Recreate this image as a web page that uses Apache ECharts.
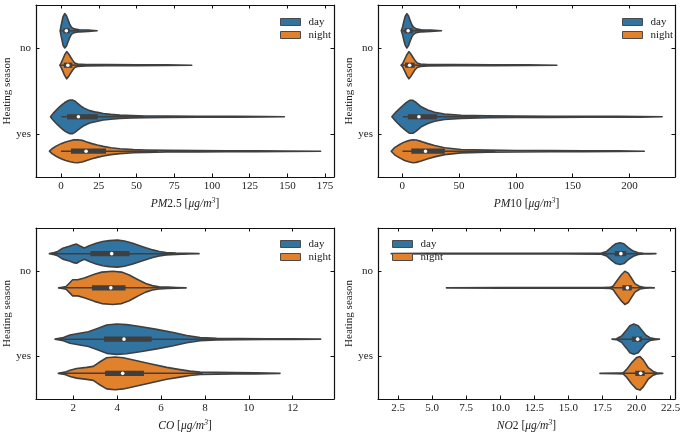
<!DOCTYPE html>
<html><head><meta charset="utf-8">
<script src="https://cdn.jsdelivr.net/npm/echarts@6/dist/echarts.min.js"></script>
<style>html,body{margin:0;padding:0;background:#fff}#c{width:685px;height:434px}</style>
</head><body><div id="c"></div>
<script>
const categories = ['no', 'yes'];
const hueNames = ['day', 'night'];
const hueColors = ['#3274a1', '#e1812c'];

const pm25Ticks = [0, 25, 50, 75, 100, 125, 150, 175];
const pm10Ticks = [0, 50, 100, 150, 200];
const coTicks = [2, 4, 6, 8, 10, 12];
const no2Ticks = [2.5, 5, 7.5, 10, 12.5, 15, 17.5, 20, 22.5];

// Violin outlines: sample values (X) and relative density / half-width (W, 1 = full width)
// Box stats: [whisker low, q1, median, q3, whisker high]
const pm25NoDayX = [-0.6, 0, 0.6, 1.33, 2.43, 3.53, 4.64, 5.74, 6.85, 8.6, 12.15, 18, 23.9];
const pm25NoDayW = [0, 0.28, 0.53, 0.83, 1.0, 0.89, 0.64, 0.39, 0.21, 0.11, 0.06, 0.04, 0];
const pm25NoDayBox = [0, 1.5, 3.5, 5.8, 12];
const pm25NoNightX = [-0.8, -0.2, 1.1, 2.43, 3.75, 5.08, 6.4, 7.73, 9.05, 11, 16.6, 30, 50, 70, 86.6];
const pm25NoNightW = [0, 0.08, 0.33, 0.61, 0.79, 0.65, 0.46, 0.28, 0.13, 0.07, 0.045, 0.035, 0.03, 0.02, 0];
const pm25NoNightBox = [0, 1.8, 4.5, 7.5, 16];
const pm25YesDayX = [-7, -5.5, -3.5, -1.5, 0.5, 2.5, 4.5, 6, 7.5, 9, 11, 13, 15, 19, 23.5, 28, 33, 39, 47, 56, 70, 90, 115, 135, 148];
const pm25YesDayW = [0, 0.17, 0.36, 0.53, 0.69, 0.83, 0.93, 0.98, 0.98, 0.92, 0.78, 0.64, 0.52, 0.36, 0.27, 0.19, 0.14, 0.1, 0.07, 0.05, 0.04, 0.03, 0.022, 0.015, 0];
const pm25YesDayBox = [0.3, 4, 11.5, 24.3, 55];
const pm25YesNightX = [-7.7, -6, -3, 0, 3, 6, 8.5, 11, 14, 17, 20.5, 24, 28, 33, 39, 48, 56, 70, 90, 110, 130, 150, 172];
const pm25YesNightW = [0, 0.14, 0.31, 0.44, 0.54, 0.61, 0.66, 0.67, 0.63, 0.54, 0.44, 0.36, 0.28, 0.2, 0.14, 0.09, 0.07, 0.05, 0.04, 0.03, 0.022, 0.015, 0];
const pm25YesNightBox = [0, 6.6, 16.6, 29.8, 64];

const pm10NoDayX = [-0.8, 0.3, 1.5, 2.6, 4.1, 5.6, 7, 8.5, 10, 12.3, 16.7, 25, 34.6];
const pm10NoDayW = [0, 0.22, 0.56, 0.83, 1.0, 0.86, 0.59, 0.35, 0.21, 0.11, 0.06, 0.04, 0];
const pm10NoDayBox = [0, 2, 5.2, 9.2, 20];
const pm10NoNightX = [-1, 0.3, 2.1, 4.1, 5.9, 7.6, 9.4, 11.1, 13.2, 16.1, 22.5, 45, 80, 110, 136];
const pm10NoNightW = [0, 0.08, 0.33, 0.61, 0.79, 0.65, 0.46, 0.28, 0.13, 0.07, 0.045, 0.035, 0.03, 0.02, 0];
const pm10NoNightBox = [0, 2.5, 6.5, 11, 24];
const pm10YesDayX = [-9.1, -5.3, -0.9, 3.5, 6.5, 9.4, 12.3, 16.7, 22.6, 28.5, 37.2, 51.8, 75.3, 100, 130, 160, 190, 210, 228.7];
const pm10YesDayW = [0, 0.29, 0.57, 0.82, 0.96, 0.96, 0.83, 0.58, 0.39, 0.26, 0.16, 0.09, 0.055, 0.045, 0.035, 0.03, 0.025, 0.02, 0];
const pm10YesDayBox = [0.5, 5, 14.7, 30.5, 68];
const pm10YesNightX = [-9.7, -6.7, -2.3, 2.1, 6.5, 9.4, 12.3, 16.7, 22.6, 28.5, 37.2, 51.8, 75.3, 100, 130, 160, 190, 213];
const pm10YesNightW = [0, 0.21, 0.39, 0.54, 0.63, 0.67, 0.65, 0.57, 0.44, 0.33, 0.2, 0.1, 0.06, 0.045, 0.035, 0.025, 0.02, 0];
const pm10YesNightBox = [0.3, 8, 20.5, 37.5, 82];

const coNoDayX = [0.91, 1.14, 1.29, 1.52, 1.82, 2.05, 2.15, 2.28, 2.5, 2.73, 3.04, 3.34, 3.64, 4.02, 4.33, 4.71, 5.16, 5.62, 5.92, 6.23, 6.68, 7.2, 7.73];
const coNoDayW = [0, 0.06, 0.13, 0.32, 0.43, 0.54, 0.56, 0.46, 0.33, 0.46, 0.61, 0.71, 0.76, 0.79, 0.74, 0.61, 0.41, 0.22, 0.13, 0.07, 0.04, 0.022, 0];
const coNoDayBox = [1.0, 2.78, 3.75, 4.56, 7.2];
const coNoNightX = [1.33, 1.5, 1.67, 1.85, 1.97, 2.2, 2.5, 2.96, 3.3, 3.8, 4.2, 4.55, 4.8, 5.0, 5.3, 5.6, 5.9, 6.3, 6.7, 7.14];
const coNoNightW = [0, 0.04, 0.08, 0.31, 0.47, 0.47, 0.58, 0.79, 0.92, 0.97, 0.92, 0.75, 0.58, 0.44, 0.25, 0.13, 0.067, 0.04, 0.022, 0];
const coNoNightBox = [1.4, 2.85, 3.71, 4.38, 6.6];
const coYesDayX = [1.17, 1.55, 1.85, 2.23, 2.69, 3.07, 3.52, 3.98, 4.43, 5.04, 5.8, 6.56, 7.17, 7.78, 8.53, 9.5, 10.81, 12, 13.27];
const coYesDayW = [0, 0.09, 0.24, 0.33, 0.43, 0.61, 0.83, 0.89, 0.85, 0.74, 0.57, 0.39, 0.21, 0.09, 0.045, 0.033, 0.022, 0.017, 0];
const coYesDayBox = [1.2, 3.4, 4.31, 5.57, 8.8];
const coYesNightX = [1.32, 1.62, 1.85, 2.15, 2.61, 2.91, 3.22, 3.52, 3.9, 4.28, 4.74, 5.5, 6.26, 6.86, 7.32, 7.78, 9.29, 10.3, 11.42];
const coYesNightW = [0, 0.07, 0.18, 0.28, 0.35, 0.41, 0.68, 0.91, 0.96, 0.91, 0.78, 0.56, 0.35, 0.22, 0.13, 0.07, 0.04, 0.028, 0];
const coYesNightBox = [1.35, 3.45, 4.25, 5.22, 7.9];

const no2NoDayX = [2.0, 5, 10, 15, 17.43, 17.8, 18.17, 18.48, 18.78, 19.07, 19.39, 19.76, 20.12, 20.49, 21.0, 21.42];
const no2NoDayW = [0, 0.017, 0.017, 0.017, 0.033, 0.13, 0.39, 0.58, 0.64, 0.58, 0.35, 0.15, 0.05, 0.017, 0.011, 0];
const no2NoDayBox = [17.5, 18.4, 18.85, 19.25, 20.5];
const no2NoNightX = [6.05, 10, 15, 17.5, 18.04, 18.29, 18.53, 18.9, 19.14, 19.39, 19.63, 19.88, 20.25, 20.61, 21.0, 21.3];
const no2NoNightW = [0, 0.017, 0.017, 0.017, 0.028, 0.11, 0.39, 0.78, 0.97, 0.86, 0.56, 0.25, 0.07, 0.022, 0.011, 0];
const no2NoNightBox = [17.8, 18.95, 19.33, 19.65, 20.7];
const no2YesDayX = [18.2, 18.53, 18.9, 19.27, 19.51, 19.8, 20.12, 20.37, 20.69, 20.98, 21.35, 21.68];
const no2YesDayW = [0, 0.028, 0.18, 0.54, 0.79, 0.88, 0.79, 0.54, 0.23, 0.083, 0.028, 0];
const no2YesDayBox = [18.5, 19.65, 20.08, 20.4, 21.5];
const no2YesNightX = [17.31, 18.5, 19.02, 19.27, 19.63, 20.0, 20.25, 20.49, 20.86, 21.22, 21.47, 21.92];
const no2YesNightW = [0, 0.017, 0.028, 0.23, 0.61, 0.92, 0.98, 0.79, 0.33, 0.11, 0.033, 0];
const no2YesNightBox = [18.9, 19.9, 20.3, 20.6, 21.5];

const FONT = '"Liberation Serif", "DejaVu Serif", serif';
const DARK = '#3f3f3f';

function V(x, w, box) { return { x: x, w: w, box: box }; }

const panels = [
  { grid: { left: 36, top: 5, width: 298, height: 172 }, min: -16.6, max: 180.9, ticks: pm25Ticks, digits: 0,
    name: '{i|PM}{n|2.5 [}{i|μg/m}{s|3}{n|]}', legend: { left: 275, top: 11 },
    violins: [[V(pm25NoDayX, pm25NoDayW, pm25NoDayBox), V(pm25NoNightX, pm25NoNightW, pm25NoNightBox)],
              [V(pm25YesDayX, pm25YesDayW, pm25YesDayBox), V(pm25YesNightX, pm25YesNightW, pm25YesNightBox)]] },
  { grid: { left: 378, top: 5, width: 297, height: 172 }, min: -21.3, max: 240, ticks: pm10Ticks, digits: 0,
    name: '{i|PM}{n|10 [}{i|μg/m}{s|3}{n|]}', legend: { left: 617, top: 11 },
    violins: [[V(pm10NoDayX, pm10NoDayW, pm10NoDayBox), V(pm10NoNightX, pm10NoNightW, pm10NoNightBox)],
              [V(pm10YesDayX, pm10YesDayW, pm10YesDayBox), V(pm10YesNightX, pm10YesNightW, pm10YesNightBox)]] },
  { grid: { left: 36, top: 228, width: 298, height: 171 }, min: 0.30, max: 13.88, ticks: coTicks, digits: 0,
    name: '{i|CO}{n| [}{i|μg/m}{s|3}{n|]}', legend: { left: 275, top: 233 },
    violins: [[V(coNoDayX, coNoDayW, coNoDayBox), V(coNoNightX, coNoNightW, coNoNightBox)],
              [V(coYesDayX, coYesDayW, coYesDayBox), V(coYesNightX, coYesNightW, coYesNightBox)]] },
  { grid: { left: 378, top: 228, width: 297, height: 171 }, min: 1.03, max: 22.82, ticks: no2Ticks, digits: 1,
    name: '{i|NO}{n|2 [}{i|μg/m}{s|3}{n|]}', legend: { left: 387, top: 233 },
    violins: [[V(no2NoDayX, no2NoDayW, no2NoDayBox), V(no2NoNightX, no2NoNightW, no2NoNightBox)],
              [V(no2YesDayX, no2YesDayW, no2YesDayBox), V(no2YesNightX, no2YesNightW, no2YesNightBox)]] }
];

function makeRender(p, h) {
  return function (params, api) {
    const ci = api.value(1);
    const v = panels[p].violins[ci][h];
    const c = api.coord([v.x[0], ci]);
    const band = api.size([0, 1])[1] || (panels[p].grid.height / 2);
    const cy = c[1] + (h === 0 ? -0.2 : 0.2) * band;
    const half = 0.2 * band;
    const top = [], bot = [];
    for (let i = 0; i < v.x.length; i++) {
      const px = api.coord([v.x[i], ci])[0];
      top.push([px, cy - v.w[i] * half]);
      bot.push([px, cy + v.w[i] * half]);
    }
    const pts = top.concat(bot.reverse());
    const bx = v.box.map(function (b) { return api.coord([b, ci])[0]; });
    return { type: 'group', children: [
      { type: 'polygon', shape: { points: pts }, style: { fill: hueColors[h], stroke: DARK, lineWidth: 1.6, lineJoin: 'round' } },
      { type: 'line', shape: { x1: bx[0], y1: cy, x2: bx[4], y2: cy }, style: { stroke: DARK, lineWidth: 1.5 } },
      { type: 'rect', shape: { x: bx[1], y: cy - 2.6, width: bx[3] - bx[1], height: 5.2 }, style: { fill: DARK } },
      { type: 'circle', shape: { cx: bx[2], cy: cy, r: 1.8 }, style: { fill: '#ffffff' } }
    ] };
  };
}

const axisLineStyle = { show: true, onZero: false, lineStyle: { color: '#111', width: 1.2 } };
const xAxes = [], yAxes = [], series = [], grids = [], legends = [];
panels.forEach(function (pn, p) {
  grids.push(pn.grid);
  const richName = {
    i: { fontFamily: FONT, fontSize: 11.5, fontStyle: 'italic', color: '#222' },
    n: { fontFamily: FONT, fontSize: 11.5, color: '#222' },
    s: { fontFamily: FONT, fontSize: 8, fontStyle: 'italic', color: '#222', verticalAlign: 'top', padding: [0, 0, 5, 0] }
  };
  xAxes.push({
    type: 'value', gridIndex: p, position: 'bottom', min: pn.min, max: pn.max,
    axisLine: axisLineStyle, splitLine: { show: false },
    axisTick: { show: true, inside: true, length: 3.5, customValues: pn.ticks, lineStyle: { color: '#111' } },
    axisLabel: { show: true, margin: 4, customValues: pn.ticks, fontFamily: FONT, fontSize: 11, color: '#222',
      formatter: function (val) { return Number(val).toFixed(pn.digits); } },
    name: pn.name, nameLocation: 'middle', nameGap: 20,
    nameTextStyle: { rich: richName }
  });
  xAxes.push({
    type: 'value', gridIndex: p, position: 'top', min: pn.min, max: pn.max,
    axisLine: axisLineStyle, splitLine: { show: false },
    axisTick: { show: true, inside: true, length: 3.5, customValues: pn.ticks, lineStyle: { color: '#111' } },
    axisLabel: { show: false }
  });
  yAxes.push({
    type: 'category', gridIndex: p, position: 'left', data: categories, inverse: true,
    axisLine: axisLineStyle,
    axisTick: { show: true, inside: true, length: 3.5, alignWithLabel: true, lineStyle: { color: '#111' } },
    axisLabel: { margin: 5, fontFamily: FONT, fontSize: 11, color: '#222' },
    name: 'Heating season', nameLocation: 'middle', nameGap: 19,
    nameTextStyle: { fontFamily: FONT, fontSize: 11, color: '#222' }
  });
  yAxes.push({
    type: 'category', gridIndex: p, position: 'right', data: categories, inverse: true,
    axisLine: axisLineStyle,
    axisTick: { show: true, inside: true, length: 3.5, alignWithLabel: true, lineStyle: { color: '#111' } },
    axisLabel: { show: false }
  });
  for (let h = 0; h < 2; h++) {
    series.push({
      type: 'custom', name: hueNames[h], xAxisIndex: 2 * p, yAxisIndex: 2 * p,
      data: categories.map(function (c, i) { return [0, i]; }),
      renderItem: makeRender(p, h), itemStyle: { color: hueColors[h] }, silent: true
    });
  }
  legends.push({
    left: pn.legend.left, top: pn.legend.top, orient: 'vertical', icon: 'rect',
    itemWidth: 20, itemHeight: 7, itemGap: 1,
    itemStyle: { borderColor: '#4a4a4a', borderWidth: 1 },
    textStyle: { fontFamily: FONT, fontSize: 11, color: '#222', lineHeight: 12, padding: [0, 0, 0, 3] },
    data: hueNames.slice()
  });
});

const chart = echarts.init(document.getElementById('c'), null, { renderer: 'canvas' });
chart.setOption({
  animation: false,
  backgroundColor: '#ffffff',
  grid: grids, xAxis: xAxes, yAxis: yAxes, legend: legends, series: series
});
</script></body></html>
